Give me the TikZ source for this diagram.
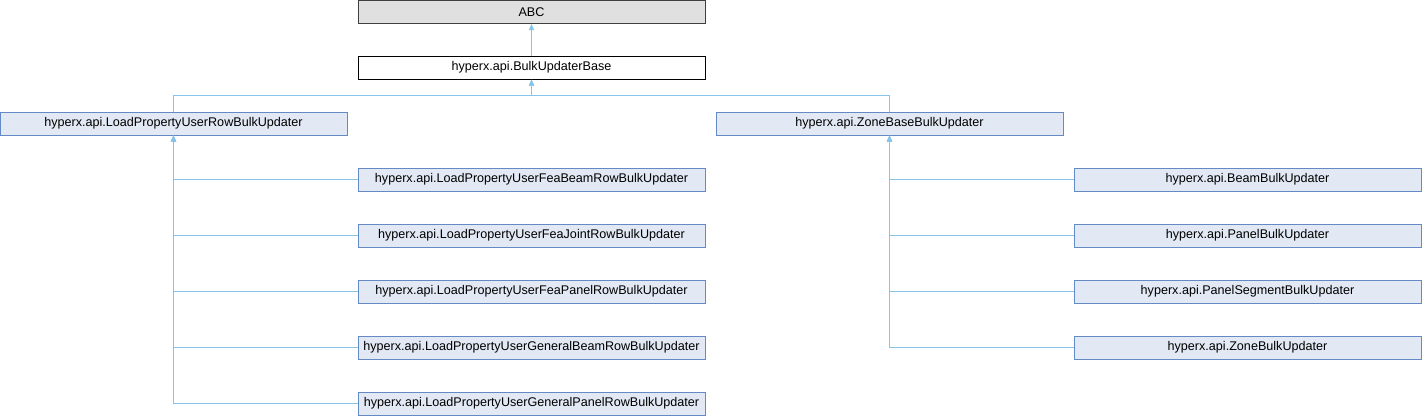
\documentclass[tikz,border=0pt]{standalone}
\usepackage{fontspec}
\setmainfont{Liberation Sans}
\usetikzlibrary{arrows.meta}
\definecolor{boxfill}{RGB}{226,232,244}
\definecolor{boxdraw}{RGB}{100,138,198}
\definecolor{edgecol}{RGB}{135,196,234}
\definecolor{abcfill}{RGB}{224,224,224}
\definecolor{abcdraw}{RGB}{64,64,64}
\tikzset{
  cls/.style={draw=boxdraw, fill=boxfill, line width=1pt, minimum width=347pt, minimum height=23pt, inner sep=0pt, font=\fontsize{12.6}{14}\selectfont, text=black},
  extcls/.style={cls, draw=abcdraw, fill=abcfill},
  basecls/.style={cls, draw=black, fill=white},
  edge/.style={draw=edgecol, line width=1.1pt, -{Triangle[width=5pt,length=6pt]}}
}
\begin{document}
\begin{tikzpicture}[x=1pt,y=-1pt]
\useasboundingbox (0,0) rectangle (1422,416);
\node[extcls] (abc) at (531.5,12) {ABC};
\node[basecls] (base) at (531.5,67.5) {hyperx.api.BulkUpdaterBase};
\node[cls] (lprow) at (173.5,123.5) {hyperx.api.LoadPropertyUserRowBulkUpdater};
\node[cls] (zbase) at (889.5,123.5) {hyperx.api.ZoneBaseBulkUpdater};
\node[cls] (l1) at (531.5,179.5) {hyperx.api.LoadPropertyUserFeaBeamRowBulkUpdater};
\node[cls] (l2) at (531.5,235.5) {hyperx.api.LoadPropertyUserFeaJointRowBulkUpdater};
\node[cls] (l3) at (531.5,291.5) {hyperx.api.LoadPropertyUserFeaPanelRowBulkUpdater};
\node[cls] (l4) at (531.5,347.5) {hyperx.api.LoadPropertyUserGeneralBeamRowBulkUpdater};
\node[cls] (l5) at (531.5,403.5) {hyperx.api.LoadPropertyUserGeneralPanelRowBulkUpdater};
\node[cls] (r1) at (1247.5,179.5) {hyperx.api.BeamBulkUpdater};
\node[cls] (r2) at (1247.5,235.5) {hyperx.api.PanelBulkUpdater};
\node[cls] (r3) at (1247.5,291.5) {hyperx.api.PanelSegmentBulkUpdater};
\node[cls] (r4) at (1247.5,347.5) {hyperx.api.ZoneBulkUpdater};
\draw[edge] (base.north) -- (abc.south);
\draw[edge] (lprow.north) -- ++(0,-16) -| (base.south);
\draw[edge] (zbase.north) -- ++(0,-16) -| (base.south);
\foreach \c in {l1,l2,l3,l4,l5}{\draw[edge] (\c.west) -| (lprow.south);}
\foreach \c in {r1,r2,r3,r4}{\draw[edge] (\c.west) -| (zbase.south);}
\end{tikzpicture}
\end{document}
